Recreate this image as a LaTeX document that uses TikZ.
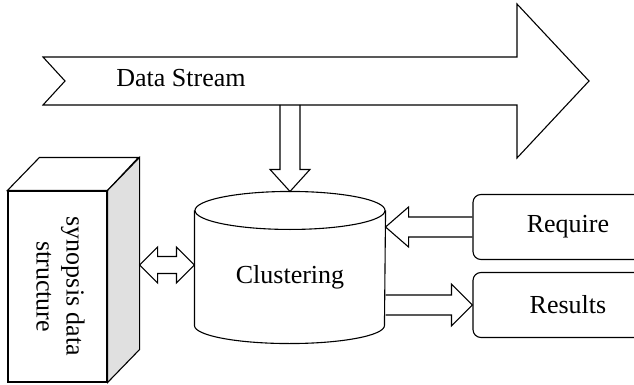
\documentclass[tikz,border=0pt]{standalone}
\usepackage{fontspec}
\setmainfont{Liberation Serif}
\usetikzlibrary{calc}
\tikzset{
	txtbox/.style={draw,rounded corners=8pt,minimum width=190,minimum height=65},
}
\begin{document}
\begin{tikzpicture}[x=1pt,y=1pt,line width=1.1pt,font=\fontsize{26}{30}\selectfont]
		\useasboundingbox (0,0) rectangle (634,-385);
		\draw (43,-57) -- (517,-57) -- (517,-4) -- (589,-81) -- (517,-158) -- (517,-105) -- (43,-105) -- (65,-81) -- cycle;
		\node (ds) at (181,-78) {Data Stream};\coordinate (dsb) at (290,-105);
		\node[draw,minimum width=99,minimum height=191] (syn) at (57.5,-286.5) {\rotatebox{-90}{\begin{tabular}{@{}c@{}}synopsis data\\structure\end{tabular}}\hspace{-8pt}};
		\draw (syn.north west) -- ++(32,33) -- ++(99,0) -- (syn.north east) -- cycle;
		\draw[fill=black!12] (syn.north east) -- ++(32,33) -- ($(syn.south east)+(32,33)$) -- (syn.south east) -- cycle;
		\node[minimum width=190,minimum height=132,inner sep=0] (clu) at (290,-277) {Clustering};
		\draw (clu.north west) -- ($(clu.south west)+(0,18)$) arc[start angle=180,end angle=360,x radius=95,y radius=18] -- (clu.north east);
		\draw (clu.north) ellipse[x radius=95,y radius=19];
		\node[txtbox] (req) at (568,-227) {Require};\node[txtbox] (res) at (568,-305) {Results};
		\coordinate (rqt) at (clu.east |- req.west);\coordinate (rst) at (clu.east |- res.west);
		\coordinate (dl) at ($(syn.east |- clu.west)+(32,12)$);\coordinate (dr) at ($(clu.west)+(0,12)$);
		\draw ($(dsb)+(-10,0)$) -- ($(clu.north)+(-10,41)$) -- ($(clu.north)+(-20,41)$) -- ($(clu.north)+(0,19)$) -- ($(clu.north)+(20,41)$) -- ($(clu.north)+(10,41)$) -- ($(dsb)+(10,0)$);
		\draw ($(req.west)+(0,10)$) -- ($(rqt)+(23,10)$) -- ($(rqt)+(23,20)$) -- (rqt) -- ($(rqt)+(23,-20)$) -- ($(rqt)+(23,-10)$) -- ($(req.west)+(0,-10)$);
		\draw ($(rst)+(0,10)$) -- ($(res.west)+(-21,10)$) -- ($(res.west)+(-21,21)$) -- (res.west) -- ($(res.west)+(-21,-21)$) -- ($(res.west)+(-21,-10)$) -- ($(rst)+(0,-10)$);
		\draw (dl) -- ($(dl)+(18,18)$) -- ($(dl)+(18,8.5)$) -- ($(dr)+(-18,8.5)$) -- ($(dr)+(-18,18)$) -- (dr) -- ($(dr)+(-18,-18)$) -- ($(dr)+(-18,-8.5)$) -- ($(dl)+(18,-8.5)$) -- ($(dl)+(18,-18)$) -- cycle;
	\end{tikzpicture}
\end{document}
